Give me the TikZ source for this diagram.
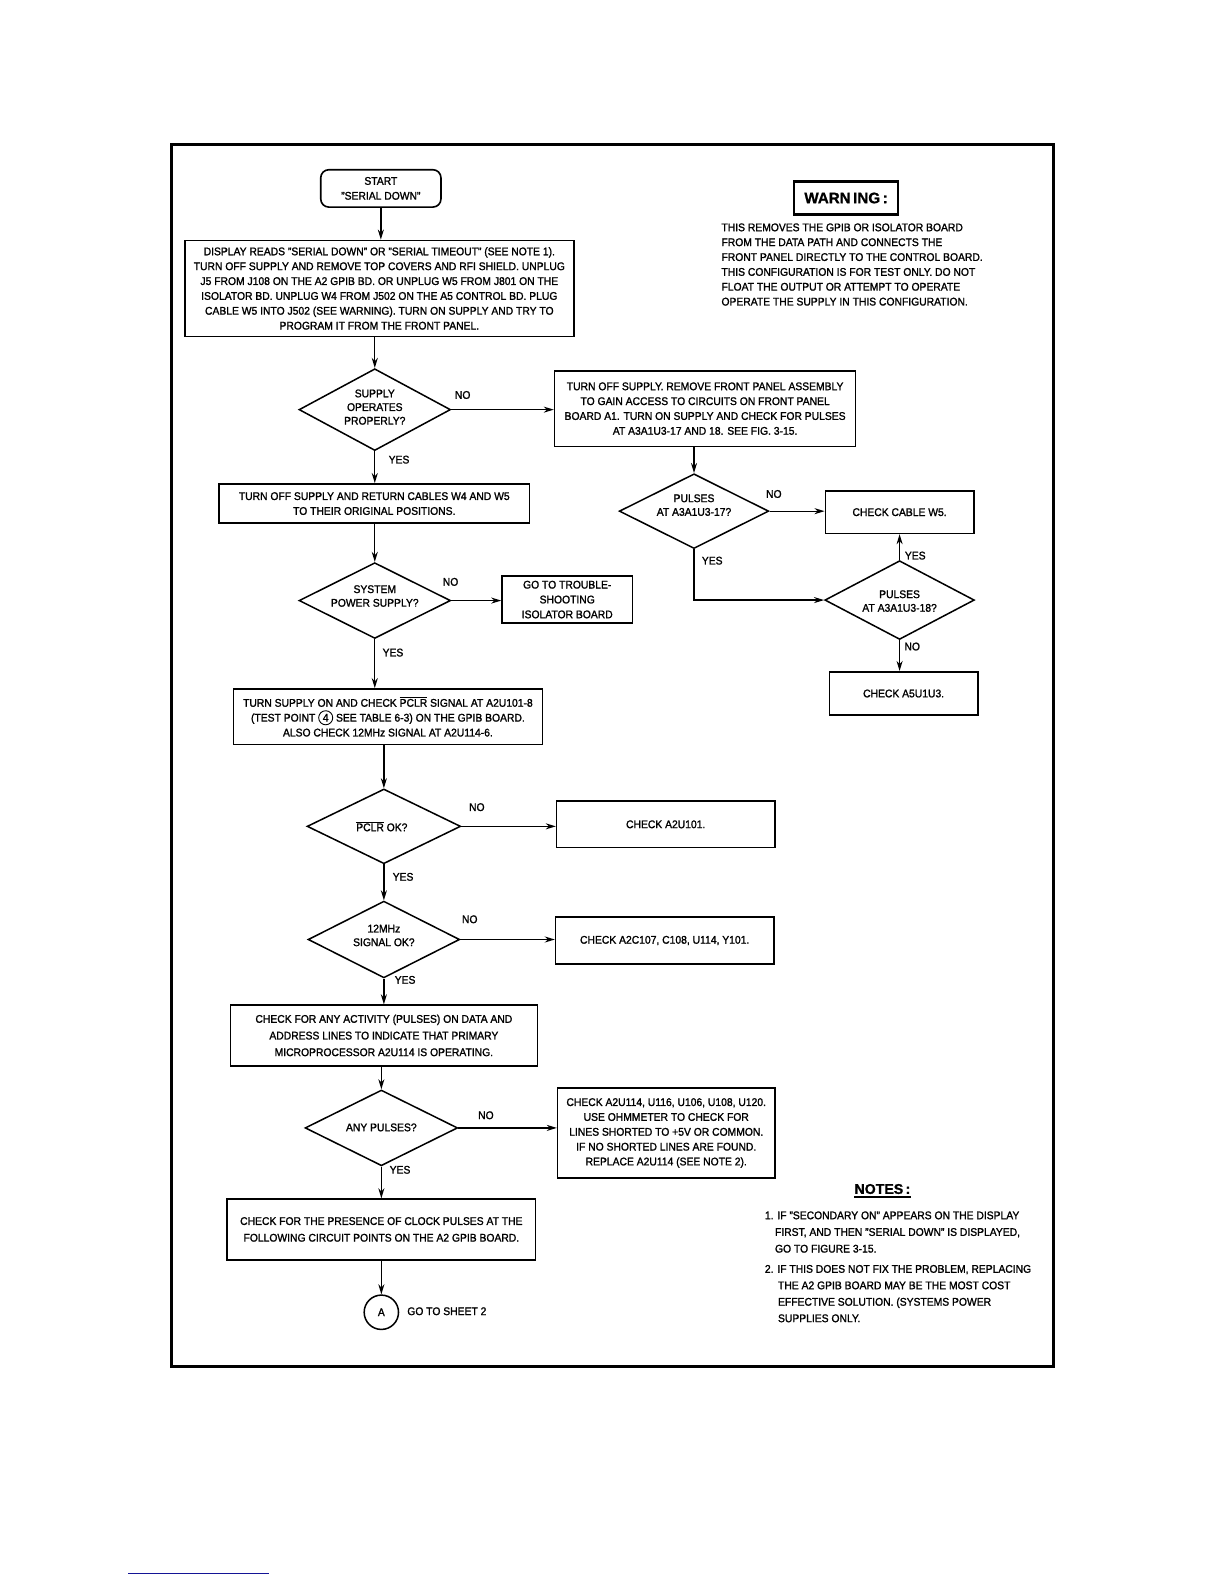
\documentclass[tikz,border=0pt]{standalone}
\usepackage{fontspec}
\setmainfont{Liberation Sans}[FakeBold=1.4,FakeStretch=0.93]
\newfontfamily\plainsans{Liberation Sans}[FakeBold=1]
\usetikzlibrary{shapes.geometric,arrows.meta,calc}
\newcommand\myovl[1]{$\overline{\mbox{#1}}$}
\newcommand\ff{\fontsize{11}{14.7}\selectfont}
\newcommand\ffd{\fontsize{11}{13.5}\selectfont}
\newcommand\ffn{\fontsize{11}{16.5}\selectfont}
\begin{document}
\begin{tikzpicture}[x=1pt,y=-1pt,
  box/.style={draw, line width=1.6pt, inner sep=0pt, align=center, font=\ff},
  dia/.style={draw, diamond, line width=1.5pt, inner sep=0pt},
  dtext/.style={inner sep=0pt, align=center, font=\ffd},
  arr/.style={-{Stealth[length=10pt,width=6pt]}, line width=1.3pt},
  lbl/.style={inner sep=0pt, font=\ff},
  plain/.style={inner sep=0pt, align=left, font=\ff}]
\useasboundingbox (0,0) rectangle (1212,1568);
\fill[white] (0,0) rectangle (1212,1568);
\draw[line width=3pt] (170,143) rectangle (1043,1353);
\draw[line width=1pt, draw={rgb,255:red,20;green,20;blue,150}] (127,1558) -- (266,1558);

% left column
\node[box, rounded corners=8pt, minimum width=119pt, minimum height=37pt] (start) at (377,186.5) {START\\"SERIAL DOWN"};
\node[box, minimum width=385pt, minimum height=95pt] (b1) at (375.5,285.5) {DISPLAY READS "SERIAL DOWN" OR "SERIAL TIMEOUT" (SEE NOTE 1).\\TURN OFF SUPPLY AND REMOVE TOP COVERS AND RFI SHIELD. UNPLUG\\J5 FROM J108 ON THE A2 GPIB BD. OR UNPLUG W5 FROM J801 ON THE\\ISOLATOR BD. UNPLUG W4 FROM J502 ON THE A5 CONTROL BD. PLUG\\CABLE W5 INTO J502 (SEE WARNING). TURN ON SUPPLY AND TRY TO\\PROGRAM IT FROM THE FRONT PANEL.};
\node[dia, minimum width=150pt, minimum height=81pt] (d1) at (371,405.5) {};
\node[dtext] (d1t) at (371,403) {SUPPLY\\OPERATES\\PROPERLY?};
\node[box, minimum width=298pt, minimum height=75pt] (b2) at (698,404.5) {TURN OFF SUPPLY. REMOVE FRONT PANEL ASSEMBLY\\TO GAIN ACCESS TO CIRCUITS ON FRONT PANEL\\BOARD A1. TURN ON SUPPLY AND CHECK FOR PULSES\\AT A3A1U3-17 AND 18. SEE FIG. 3-15.};
\node[box, minimum width=307pt, minimum height=39pt] (b3) at (370.5,498.5) {TURN OFF SUPPLY AND RETURN CABLES W4 AND W5\\TO THEIR ORIGINAL POSITIONS.};
\node[dia, minimum width=150pt, minimum height=75pt] (d2) at (371,594.5) {};
\node[dtext] (d2t) at (371,590) {SYSTEM\\POWER SUPPLY?};
\node[box, minimum width=129pt, minimum height=47pt] (b4) at (561.5,593.5) {GO TO TROUBLE-\\SHOOTING\\ISOLATOR BOARD};
\node[box, minimum width=306pt, minimum height=55pt] (b5) at (384,709.5) {TURN SUPPLY ON AND CHECK \myovl{PCLR} SIGNAL AT A2U101-8\\(TEST POINT \tikz[baseline=(c4.base)]\node[draw,circle,minimum width=0pt,minimum height=0pt,inner sep=1.6pt,line width=0.9pt,font=\ff](c4){4}; SEE TABLE 6-3) ON THE GPIB BOARD.\\ALSO CHECK 12MHz SIGNAL AT A2U114-6.};
\node[dia, minimum width=152pt, minimum height=74pt] (d3) at (380,818) {};
\node[dtext] (d3t) at (378,818) {\myovl{PCLR} OK?};
\node[box, minimum width=216pt, minimum height=46pt] (b6) at (659,816) {CHECK A2U101.};
\node[dia, minimum width=150pt, minimum height=76pt] (d4) at (380,930) {};
\node[dtext] (d4t) at (380,926) {12MHz\\SIGNAL OK?};
\node[box, minimum width=216pt, minimum height=46pt] (b7) at (658,931) {CHECK A2C107, C108, U114, Y101.};
\node[box, font=\ffn, minimum width=304pt, minimum height=60pt] (b8) at (380,1025) {CHECK FOR ANY ACTIVITY (PULSES) ON DATA AND\\ADDRESS LINES TO INDICATE THAT PRIMARY\\MICROPROCESSOR A2U114 IS OPERATING.};
\node[dia, minimum width=151pt, minimum height=75pt] (d5) at (377.5,1116.5) {};
\node[dtext] (d5t) at (377.5,1116) {ANY PULSES?};
\node[box, minimum width=215pt, minimum height=89pt] (b9) at (659.5,1121.5) {CHECK A2U114, U116, U106, U108, U120.\\USE OHMMETER TO CHECK FOR\\LINES SHORTED TO +5V OR COMMON.\\IF NO SHORTED LINES ARE FOUND.\\REPLACE A2U114 (SEE NOTE 2).};
\node[box, font=\ffn, minimum width=305pt, minimum height=60pt] (b10) at (377.5,1217) {CHECK FOR THE PRESENCE OF CLOCK PULSES AT THE\\FOLLOWING CIRCUIT POINTS ON THE A2 GPIB BOARD.};
\node[draw, circle, line width=1.5pt, minimum size=34pt, inner sep=0pt, font=\ff] (cA) at (377.5,1299) {A};
\node[lbl, anchor=west] (sheet) at (403,1298) {GO TO SHEET 2};

% right column
\node[dia, minimum width=148pt, minimum height=74pt] (d6) at (687,506) {};
\node[dtext] (d6t) at (687,500) {PULSES\\AT A3A1U3-17?};
\node[box, minimum width=147pt, minimum height=42pt] (b11) at (890.5,507) {CHECK CABLE W5.};
\node[dia, minimum width=148pt, minimum height=78pt] (d7) at (890.5,594) {};
\node[dtext] (d7t) at (890.5,595) {PULSES\\AT A3A1U3-18?};
\node[box, minimum width=147pt, minimum height=43pt] (b12) at (894.5,686.5) {CHECK A5U1U3.};

% labels
\node[lbl] (n1) at (458,391) {NO};
\node[lbl] (y1) at (395,455) {YES};
\node[lbl] (n2) at (446,576) {NO};
\node[lbl] (y2) at (389,646) {YES};
\node[lbl] (n3) at (472,799) {NO};
\node[lbl] (y3) at (399,868) {YES};
\node[lbl] (n4) at (465,910) {NO};
\node[lbl] (y4) at (401,970) {YES};
\node[lbl] (n5) at (481,1104) {NO};
\node[lbl] (y5) at (396,1158) {YES};
\node[lbl] (n6) at (766,489) {NO};
\node[lbl] (y6) at (705,555) {YES};
\node[lbl] (y7) at (906,550) {YES};
\node[lbl] (n7) at (903,640) {NO};

% connectors
\draw[arr] (start.south) -- (start.south |- b1.north);
\draw[arr] (d1.north |- b1.south) -- (d1.north);
\draw[arr] (d1.east) -- (d1.east -| b2.west);
\draw[arr] (d1.south) -- (d1.south |- b3.north);
\draw[arr] (d2.north |- b3.south) -- (d2.north);
\draw[arr] (d2.east) -- (d2.east -| b4.west);
\draw[arr] (d2.south) -- (d2.south |- b5.north);
\draw[arr] (d3.north |- b5.south) -- (d3.north);
\draw[arr] (d3.east) -- (d3.east -| b6.west);
\draw[arr] (d3.south) -- (d3.south |- d4.north);
\draw[arr] (d4.east) -- (d4.east -| b7.west);
\draw[arr] (d4.south) -- (d4.south |- b8.north);
\draw[arr] (d5.north |- b8.south) -- (d5.north);
\draw[arr] (d5.east) -- (d5.east -| b9.west);
\draw[arr] (d5.south) -- (d5.south |- b10.north);
\draw[arr] (cA.north |- b10.south) -- (cA.north);
\draw[arr] (d6.north |- b2.south) -- (d6.north);
\draw[arr] (d6.east) -- (d6.east -| b11.west);
\draw[arr] (d6.south) |- (d7.west);
\draw[arr] (d7.north) -- (d7.north |- b11.south);
\draw[arr] (d7.south) -- (d7.south |- b12.north);

% warning
\node[draw, line width=2.8pt, minimum width=103pt, minimum height=32pt, inner sep=0pt, font=\plainsans\bfseries\fontsize{15}{18}\selectfont] (warn) at (837.5,196) {WARN\,ING\,:};
\node[plain, anchor=north west] (warntext) at (714,221) {THIS REMOVES THE GPIB OR ISOLATOR BOARD\\FROM THE DATA PATH AND CONNECTS THE\\FRONT PANEL DIRECTLY TO THE CONTROL BOARD.\\THIS CONFIGURATION IS FOR TEST ONLY. DO NOT\\FLOAT THE OUTPUT OR ATTEMPT TO OPERATE\\OPERATE THE SUPPLY IN THIS CONFIGURATION.};

% notes
\node[inner sep=0pt, font=\plainsans\bfseries\fontsize{14}{17}\selectfont] (nt) at (873.5,1177) {NOTES\,:};
\draw[line width=1.8pt] ([yshift=-3pt]nt.south west) -- ([yshift=-3pt]nt.south east);
\node[plain, font=\ffn, anchor=north west] (note1) at (757,1199) {1. IF "SECONDARY ON" APPEARS ON THE DISPLAY\\\hspace*{10pt}FIRST, AND THEN "SERIAL DOWN" IS DISPLAYED,\\\hspace*{10pt}GO TO FIGURE 3-15.};
\node[plain, font=\fontsize{11}{16.3}\selectfont, anchor=north west] (note2) at (757,1252) {2. IF THIS DOES NOT FIX THE PROBLEM, REPLACING\\\hspace*{13pt}THE A2 GPIB BOARD MAY BE THE MOST COST\\\hspace*{13pt}EFFECTIVE SOLUTION. (SYSTEMS POWER\\\hspace*{13pt}SUPPLIES ONLY.};
\end{tikzpicture}
\end{document}
